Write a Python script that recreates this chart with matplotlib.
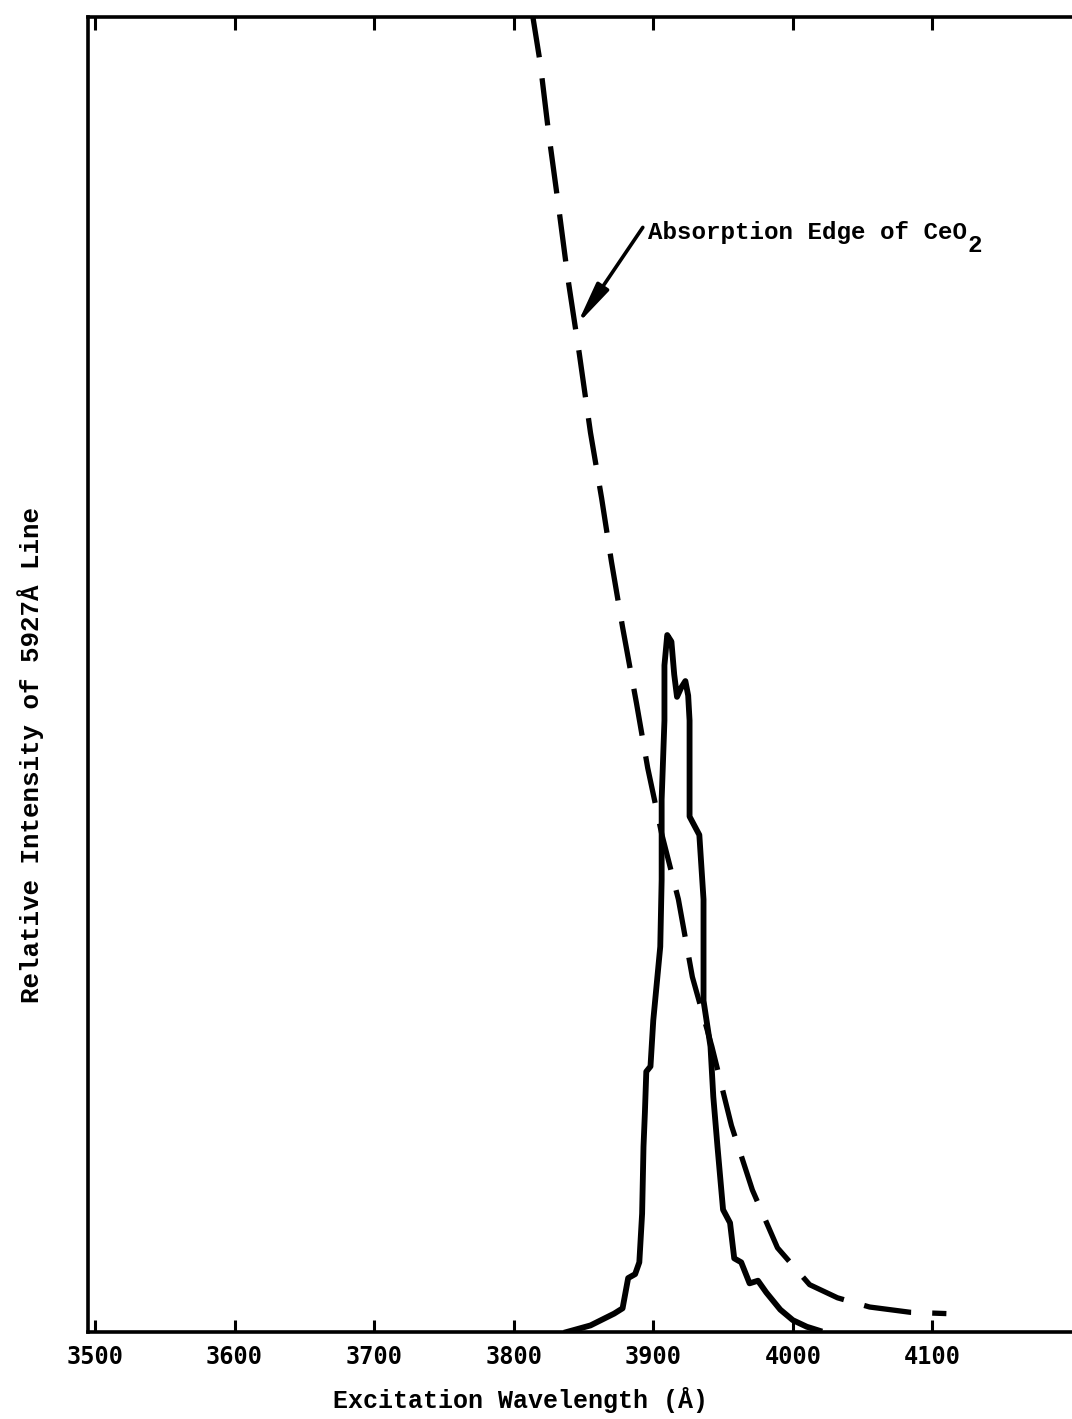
import matplotlib.pyplot as plt

plt.rcParams['font.family'] = ['Liberation Mono', 'DejaVu Sans Mono']
plt.rcParams['font.weight'] = 'bold'
plt.rcParams['axes.labelweight'] = 'bold'

# excitation spectrum of the 5927 A line (solid trace)
excit_wl = [3838, 3855, 3872, 3878, 3882, 3887, 3890, 3892, 3893, 3894,
            3895, 3898, 3900, 3905, 3906, 3906, 3908, 3908, 3910, 3913,
            3915, 3917, 3920, 3923, 3925, 3926, 3926, 3930, 3933, 3936,
            3936, 3941, 3943, 3946, 3950, 3955, 3958, 3963, 3969, 3975,
            3981, 3991, 4000, 4010, 4019]
excit_int = [0.0, 0.5, 1.4, 1.8, 4.1, 4.4, 5.3, 9.0, 14.1, 16.7,
             19.8, 20.2, 23.7, 29.3, 34.4, 40.5, 46.5, 50.7, 53.0, 52.5,
             50.0, 48.3, 49.0, 49.5, 48.4, 46.5, 39.2, 38.4, 37.8, 32.9,
             25.2, 21.7, 17.9, 14.1, 9.3, 8.3, 5.6, 5.3, 3.7, 3.9,
             3.0, 1.7, 0.9, 0.4, 0.1]

# absorption edge of CeO2 (dashed trace)
edge_wl = [3813, 3819, 3825, 3832, 3839, 3847, 3855, 3863, 3870, 3878,
           3888, 3896, 3906, 3918, 3928, 3942, 3956, 3971, 3989, 4012,
           4032, 4055, 4084, 4110]
edge_int = [100.5, 96.5, 91.2, 85.7, 80.0, 74.4, 68.4, 63.4, 58.6, 53.6,
            47.8, 42.9, 37.9, 32.9, 27.0, 21.7, 15.7, 10.8, 6.4, 3.6,
            2.6, 1.9, 1.5, 1.4]

x_ticks = [3500, 3600, 3700, 3800, 3900, 4000, 4100]

fig = plt.figure(figsize=(10.72, 14.19), dpi=100)
ax = fig.add_axes([88 / 1072, 87 / 1419, 984 / 1072, 1315 / 1419])

ax.plot(excit_wl, excit_int, color='black', lw=4.2, solid_joinstyle='round')
ax.plot(edge_wl, edge_int, color='black', lw=3.8,
        linestyle=(0, (9.0, 4.0)))

# arrow pointing at the dashed curve
ax.annotate('', xy=(3845.3, 76.6), xytext=(3892.5, 84.0),
            arrowprops=dict(arrowstyle='-|>,head_length=0.9,head_width=0.15',
                            color='black', lw=2.6, mutation_scale=28,
                            shrinkA=0, shrinkB=0))
label_size = 17.4
ax.text(3896, 83.6, 'Absorption Edge of CeO', ha='left', va='center',
        fontsize=label_size, fontweight='bold')
# subscript dropped below the baseline, typewriter style
char_px = 0.6 * label_size * 100 / 72
ax.annotate('2', xy=(3896, 83.6), xytext=(22 * char_px + 1, -13),
            textcoords='offset pixels', ha='left', va='center',
            fontsize=label_size, fontweight='bold')

ax.set_xlim(3495, 4200)
ax.set_ylim(0, 100)
ax.set_xticks(x_ticks)
ax.set_xticklabels([str(t) for t in x_ticks], family='DejaVu Sans Mono',
                   fontweight='bold')
ax.set_yticks([])
ax.tick_params(axis='x', which='both', direction='in', length=9, width=2.2,
               top=True, labelsize=17, pad=9)

for side in ['left', 'bottom', 'top']:
    ax.spines[side].set_linewidth(2.6)
ax.spines['right'].set_visible(False)

ax.set_xlabel('Excitation Wavelength (Å)', fontsize=18, fontweight='bold')
ax.xaxis.set_label_coords(0.44, -0.042)
ax.set_ylabel('Relative Intensity of 5927Å Line', fontsize=18.6,
              fontweight='bold')
ax.yaxis.set_label_coords(-0.045, 0.439)

fig.savefig('out.png', dpi=100, facecolor='white')
